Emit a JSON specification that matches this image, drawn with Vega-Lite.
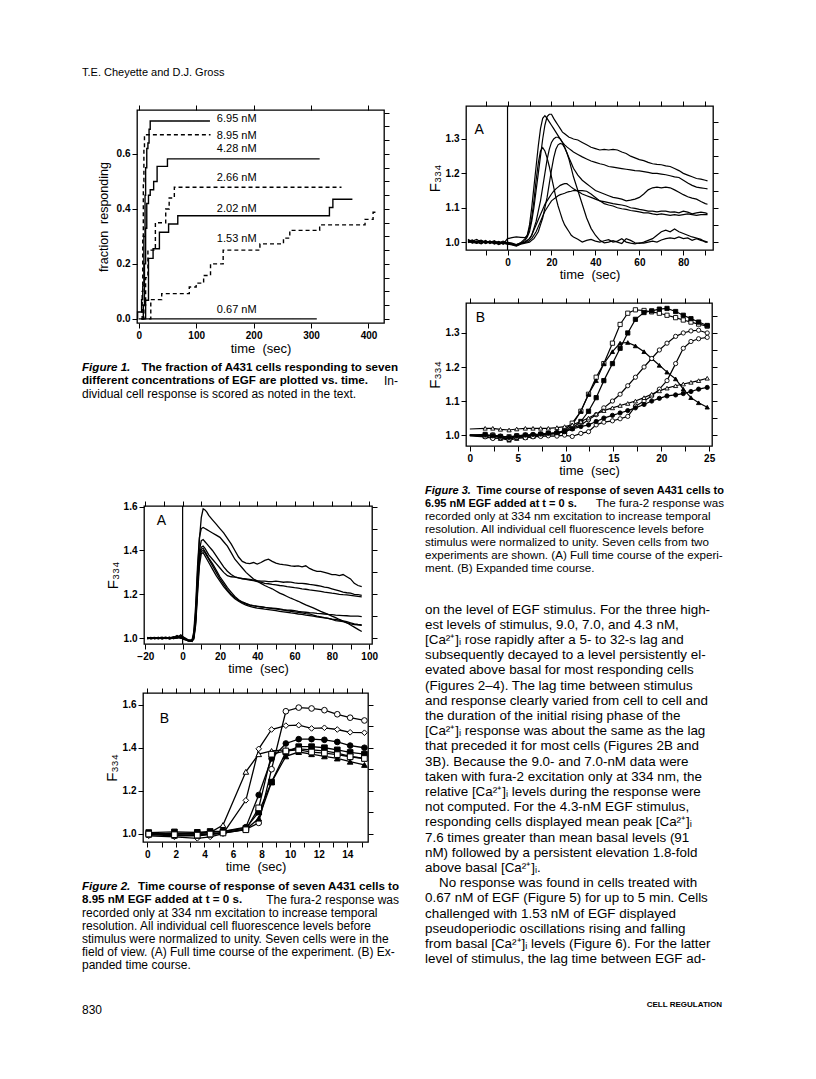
{
  "$schema": "https://vega.github.io/schema/vega-lite/v6.json",
  "background": "white",
  "padding": {"left": 82, "top": 66, "right": 10, "bottom": 10},
  "bounds": "flush",
  "spacing": 343,
  "config": {
    "view": {"stroke": null},
    "font": "Liberation Sans",
    "axis": {"grid": false, "domain": false, "ticks": true, "tickColor": "#000", "tickWidth": 1, "tickSize": 5,
      "labelColor": "#000", "labelFont": "Liberation Sans", "labelFontSize": 10, "labelFontWeight": "bold", "labelPadding": 2,
      "labelFlush": false, "labelOverlap": false, "titleColor": "#000", "titleFont": "Liberation Sans", "titleFontWeight": "normal", "titleFontSize": 13},
    "text": {"font": "Liberation Sans", "color": "#000"}
  },
  "datasets": {
    "fig1": [
      {"conc":"6.95 nM","t":-2.5,"f":0},{"conc":"6.95 nM","t":-2,"f":0.025},{"conc":"6.95 nM","t":5,"f":0.07},{"conc":"6.95 nM","t":7,"f":0.12},{"conc":"6.95 nM","t":9,"f":0.3},{"conc":"6.95 nM","t":11,"f":0.45},{"conc":"6.95 nM","t":12,"f":0.55},{"conc":"6.95 nM","t":14,"f":0.62},{"conc":"6.95 nM","t":16,"f":0.64},{"conc":"6.95 nM","t":18,"f":0.69},{"conc":"6.95 nM","t":20,"f":0.72},{"conc":"6.95 nM","t":124,"f":0.72},
      {"conc":"8.95 nM","t":4,"f":0},{"conc":"8.95 nM","t":6,"f":0.1},{"conc":"8.95 nM","t":7,"f":0.3},{"conc":"8.95 nM","t":8,"f":0.5},{"conc":"8.95 nM","t":9,"f":0.62},{"conc":"8.95 nM","t":10,"f":0.67},{"conc":"8.95 nM","t":125,"f":0.67},
      {"conc":"4.28 nM","t":5,"f":0},{"conc":"4.28 nM","t":8,"f":0.05},{"conc":"4.28 nM","t":10,"f":0.2},{"conc":"4.28 nM","t":12,"f":0.33},{"conc":"4.28 nM","t":14,"f":0.42},{"conc":"4.28 nM","t":17,"f":0.45},{"conc":"4.28 nM","t":20,"f":0.47},{"conc":"4.28 nM","t":26,"f":0.5},{"conc":"4.28 nM","t":32,"f":0.555},{"conc":"4.28 nM","t":47,"f":0.555},{"conc":"4.28 nM","t":50,"f":0.582},{"conc":"4.28 nM","t":315,"f":0.582},
      {"conc":"2.66 nM","t":6,"f":0},{"conc":"2.66 nM","t":9,"f":0.05},{"conc":"2.66 nM","t":12,"f":0.15},{"conc":"2.66 nM","t":16,"f":0.25},{"conc":"2.66 nM","t":26,"f":0.25},{"conc":"2.66 nM","t":29,"f":0.35},{"conc":"2.66 nM","t":40,"f":0.35},{"conc":"2.66 nM","t":47,"f":0.4},{"conc":"2.66 nM","t":53,"f":0.44},{"conc":"2.66 nM","t":62,"f":0.479},{"conc":"2.66 nM","t":353,"f":0.479},
      {"conc":"2.02 nM","t":5,"f":0},{"conc":"2.02 nM","t":12,"f":0.068},{"conc":"2.02 nM","t":17,"f":0.22},{"conc":"2.02 nM","t":25,"f":0.255},{"conc":"2.02 nM","t":36,"f":0.315},{"conc":"2.02 nM","t":52,"f":0.345},{"conc":"2.02 nM","t":68,"f":0.375},{"conc":"2.02 nM","t":332,"f":0.405},{"conc":"2.02 nM","t":338,"f":0.435},{"conc":"2.02 nM","t":372,"f":0.435},
      {"conc":"1.53 nM","t":18,"f":0},{"conc":"1.53 nM","t":21,"f":0.07},{"conc":"1.53 nM","t":40,"f":0.092},{"conc":"1.53 nM","t":88,"f":0.116},{"conc":"1.53 nM","t":100,"f":0.13},{"conc":"1.53 nM","t":113,"f":0.158},{"conc":"1.53 nM","t":125,"f":0.2},{"conc":"1.53 nM","t":147,"f":0.25},{"conc":"1.53 nM","t":211,"f":0.273},{"conc":"1.53 nM","t":252,"f":0.294},{"conc":"1.53 nM","t":263,"f":0.322},{"conc":"1.53 nM","t":315,"f":0.342},{"conc":"1.53 nM","t":394,"f":0.362},{"conc":"1.53 nM","t":408,"f":0.388},{"conc":"1.53 nM","t":417,"f":0.388},
      {"conc":"0.67 nM","t":0,"f":0},{"conc":"0.67 nM","t":310,"f":0}
    ],
    "fig1lab": [
      {"conc":"6.95 nM","t":136,"f":0.727},{"conc":"8.95 nM","t":136,"f":0.667},{"conc":"4.28 nM","t":136,"f":0.618},{"conc":"2.66 nM","t":136,"f":0.512},{"conc":"2.02 nM","t":136,"f":0.4},{"conc":"1.53 nM","t":136,"f":0.289},{"conc":"0.67 nM","t":136,"f":0.031}
    ],
    "f3a": [
      {"t":-18,"a":1.005,"b":1.002,"c":1.0,"d":1.008,"e":0.998,"f":1.004,"g":1.0},
      {"t":-16,"a":0.998,"b":1.006,"c":1.003,"d":1.0,"e":1.004,"f":0.997,"g":1.002},
      {"t":-14,"a":1.003,"b":0.997,"c":1.008,"d":0.996,"e":1.0,"f":1.002,"g":0.998},
      {"t":-12,"a":0.996,"b":1.004,"c":0.999,"d":1.003,"e":0.995,"f":1.006,"g":1.004},
      {"t":-10,"a":1.002,"b":0.999,"c":1.005,"d":0.997,"e":1.003,"f":0.998,"g":0.996},
      {"t":-8,"a":0.997,"b":1.003,"c":0.996,"d":1.002,"e":0.999,"f":1.003,"g":1.001},
      {"t":-6,"a":1.001,"b":0.996,"c":1.002,"d":0.994,"e":1.004,"f":0.997,"g":0.999},
      {"t":-4,"a":0.995,"b":1.002,"c":0.998,"d":1.0,"e":0.996,"f":1.001,"g":0.993},
      {"t":-2,"a":0.999,"b":0.994,"c":1.003,"d":0.996,"e":1.001,"f":0.995,"g":0.998},
      {"t":0,"a":0.996,"b":1.01,"c":0.997,"d":0.994,"e":0.998,"f":1.0,"g":0.995},
      {"t":2,"a":0.993,"b":1.013,"c":0.995,"d":0.992,"e":0.997,"f":0.996,"g":0.994},
      {"t":4,"a":0.99,"b":1.015,"c":0.992,"d":0.988,"e":0.993,"f":0.99,"g":0.991},
      {"t":6,"a":0.996,"b":1.014,"c":0.998,"d":0.994,"e":0.998,"f":0.995,"g":0.996},
      {"t":8,"a":1.005,"b":1.013,"c":1.0,"d":0.997,"e":1.01,"f":1.0,"g":0.999},
      {"t":9,"a":1.015,"b":1.02,"c":1.005,"d":0.998,"e":1.02,"f":1.005,"g":1.0},
      {"t":10,"a":1.03,"b":1.05,"c":1.01,"d":1.0,"e":1.04,"f":1.01,"g":1.005},
      {"t":11,"a":1.06,"b":1.1,"c":1.02,"d":1.005,"e":1.07,"f":1.02,"g":1.01},
      {"t":12,"a":1.1,"b":1.16,"c":1.04,"d":1.01,"e":1.12,"f":1.035,"g":1.02},
      {"t":13,"a":1.15,"b":1.22,"c":1.06,"d":1.02,"e":1.18,"f":1.05,"g":1.03},
      {"t":14,"a":1.2,"b":1.28,"c":1.09,"d":1.03,"e":1.23,"f":1.065,"g":1.045},
      {"t":15,"a":1.25,"b":1.33,"c":1.12,"d":1.05,"e":1.265,"f":1.08,"g":1.06},
      {"t":16,"a":1.3,"b":1.36,"c":1.16,"d":1.07,"e":1.275,"f":1.095,"g":1.075},
      {"t":17,"a":1.34,"b":1.368,"c":1.2,"d":1.1,"e":1.265,"f":1.11,"g":1.09},
      {"t":18,"a":1.365,"b":1.36,"c":1.24,"d":1.13,"e":1.245,"f":1.12,"g":1.1},
      {"t":19,"a":1.372,"b":1.35,"c":1.27,"d":1.17,"e":1.22,"f":1.13,"g":1.11},
      {"t":20,"a":1.372,"b":1.34,"c":1.29,"d":1.21,"e":1.19,"f":1.14,"g":1.12},
      {"t":21,"a":1.36,"b":1.33,"c":1.3,"d":1.245,"e":1.16,"f":1.148,"g":1.125},
      {"t":22,"a":1.35,"b":1.32,"c":1.305,"d":1.27,"e":1.13,"f":1.155,"g":1.13},
      {"t":23,"a":1.34,"b":1.31,"c":1.305,"d":1.283,"e":1.105,"f":1.16,"g":1.135},
      {"t":24,"a":1.33,"b":1.3,"c":1.3,"d":1.287,"e":1.085,"f":1.165,"g":1.138},
      {"t":25,"a":1.32,"b":1.29,"c":1.29,"d":1.285,"e":1.065,"f":1.168,"g":1.14},
      {"t":26,"a":1.315,"b":1.283,"c":1.275,"d":1.275,"e":1.05,"f":1.17,"g":1.142},
      {"t":27,"a":1.31,"b":1.277,"c":1.26,"d":1.26,"e":1.04,"f":1.17,"g":1.145},
      {"t":28,"a":1.305,"b":1.272,"c":1.245,"d":1.24,"e":1.03,"f":1.165,"g":1.147},
      {"t":29,"a":1.303,"b":1.267,"c":1.23,"d":1.215,"e":1.02,"f":1.16,"g":1.148},
      {"t":30,"a":1.3,"b":1.262,"c":1.215,"d":1.19,"e":1.015,"f":1.155,"g":1.15},
      {"t":32,"a":1.297,"b":1.255,"c":1.195,"d":1.15,"e":1.008,"f":1.148,"g":1.15},
      {"t":34,"a":1.29,"b":1.248,"c":1.18,"d":1.11,"e":1.0,"f":1.14,"g":1.15},
      {"t":36,"a":1.283,"b":1.242,"c":1.17,"d":1.07,"e":1.005,"f":1.135,"g":1.148},
      {"t":38,"a":1.276,"b":1.236,"c":1.16,"d":1.04,"e":1.008,"f":1.13,"g":1.14},
      {"t":40,"a":1.272,"b":1.232,"c":1.15,"d":1.02,"e":1.003,"f":1.125,"g":1.13},
      {"t":42,"a":1.268,"b":1.228,"c":1.145,"d":1.005,"e":1.0,"f":1.12,"g":1.12},
      {"t":44,"a":1.27,"b":1.225,"c":1.14,"d":0.998,"e":1.004,"f":1.118,"g":1.112},
      {"t":46,"a":1.268,"b":1.22,"c":1.135,"d":1.0,"e":1.007,"f":1.115,"g":1.108},
      {"t":48,"a":1.27,"b":1.218,"c":1.13,"d":1.004,"e":1.0,"f":1.112,"g":1.105},
      {"t":50,"a":1.268,"b":1.216,"c":1.128,"d":1.0,"e":1.003,"f":1.11,"g":1.1},
      {"t":52,"a":1.262,"b":1.214,"c":1.125,"d":0.996,"e":1.01,"f":1.108,"g":1.097},
      {"t":54,"a":1.258,"b":1.212,"c":1.12,"d":1.01,"e":1.0,"f":1.105,"g":1.095},
      {"t":56,"a":1.25,"b":1.21,"c":1.122,"d":1.005,"e":0.997,"f":1.1,"g":1.092},
      {"t":58,"a":1.245,"b":1.208,"c":1.125,"d":0.998,"e":0.995,"f":1.098,"g":1.09},
      {"t":60,"a":1.24,"b":1.207,"c":1.13,"d":0.996,"e":0.998,"f":1.095,"g":1.088},
      {"t":62,"a":1.237,"b":1.205,"c":1.14,"d":1.0,"e":0.997,"f":1.093,"g":1.085},
      {"t":64,"a":1.232,"b":1.203,"c":1.152,"d":1.005,"e":1.0,"f":1.09,"g":1.085},
      {"t":66,"a":1.228,"b":1.2,"c":1.158,"d":1.01,"e":1.003,"f":1.09,"g":1.082},
      {"t":68,"a":1.226,"b":1.2,"c":1.16,"d":1.02,"e":1.0,"f":1.088,"g":1.08},
      {"t":70,"a":1.225,"b":1.198,"c":1.158,"d":1.03,"e":1.006,"f":1.09,"g":1.082},
      {"t":72,"a":1.222,"b":1.196,"c":1.16,"d":1.035,"e":1.01,"f":1.09,"g":1.08},
      {"t":74,"a":1.22,"b":1.193,"c":1.158,"d":1.03,"e":1.012,"f":1.087,"g":1.078},
      {"t":76,"a":1.214,"b":1.19,"c":1.152,"d":1.038,"e":1.01,"f":1.088,"g":1.08},
      {"t":78,"a":1.208,"b":1.188,"c":1.145,"d":1.03,"e":1.015,"f":1.085,"g":1.078},
      {"t":80,"a":1.2,"b":1.18,"c":1.138,"d":1.025,"e":1.01,"f":1.09,"g":1.08},
      {"t":82,"a":1.195,"b":1.172,"c":1.132,"d":1.02,"e":1.012,"f":1.087,"g":1.082},
      {"t":84,"a":1.19,"b":1.165,"c":1.128,"d":1.015,"e":1.005,"f":1.082,"g":1.08},
      {"t":86,"a":1.185,"b":1.16,"c":1.125,"d":1.012,"e":1.01,"f":1.085,"g":1.078},
      {"t":88,"a":1.183,"b":1.158,"c":1.118,"d":1.008,"e":1.005,"f":1.087,"g":1.08},
      {"t":90,"a":1.18,"b":1.156,"c":1.112,"d":1.0,"e":1.002,"f":1.085,"g":1.08},
      {"t":91,"a":1.178,"b":1.155,"c":1.11,"d":1.0,"e":1.0,"f":1.083,"g":1.08}
    ],
    "f3b": [
      {"t":0,"osq":1.0,"fsq":1.0,"ftri":1.0,"fdia":1.0,"ocir":0.998,"otri":1.018,"fcir":1.0},
      {"t":1.6,"osq":0.998,"fsq":1.002,"ftri":0.996,"fdia":0.998,"ocir":0.995,"otri":1.02,"fcir":1.0},
      {"t":2.4,"osq":1.0,"fsq":0.997,"ftri":0.993,"fdia":1.0,"ocir":0.99,"otri":1.02,"fcir":0.998},
      {"t":3.2,"osq":0.996,"fsq":0.995,"ftri":0.99,"fdia":0.997,"ocir":0.992,"otri":1.017,"fcir":0.996},
      {"t":4.1,"osq":0.995,"fsq":0.99,"ftri":0.985,"fdia":0.994,"ocir":0.988,"otri":1.015,"fcir":0.993},
      {"t":4.9,"osq":0.998,"fsq":0.996,"ftri":0.99,"fdia":0.998,"ocir":0.993,"otri":1.018,"fcir":0.997},
      {"t":5.8,"osq":1.0,"fsq":0.995,"ftri":0.993,"fdia":1.0,"ocir":0.992,"otri":1.02,"fcir":1.0},
      {"t":6.6,"osq":0.997,"fsq":1.0,"ftri":0.996,"fdia":0.998,"ocir":0.995,"otri":1.02,"fcir":1.002},
      {"t":7.4,"osq":1.0,"fsq":1.003,"ftri":1.0,"fdia":1.002,"ocir":0.996,"otri":1.02,"fcir":1.003},
      {"t":8.2,"osq":1.003,"fsq":1.005,"ftri":1.002,"fdia":1.004,"ocir":0.998,"otri":1.02,"fcir":1.005},
      {"t":9.1,"osq":1.005,"fsq":1.006,"ftri":1.005,"fdia":1.006,"ocir":0.997,"otri":1.022,"fcir":1.007},
      {"t":9.9,"osq":1.015,"fsq":1.01,"ftri":1.01,"fdia":1.01,"ocir":1.0,"otri":1.025,"fcir":1.01},
      {"t":10.7,"osq":1.035,"fsq":1.02,"ftri":1.03,"fdia":1.02,"ocir":0.996,"otri":1.03,"fcir":1.018},
      {"t":11.6,"osq":1.07,"fsq":1.04,"ftri":1.07,"fdia":1.03,"ocir":1.005,"otri":1.04,"fcir":1.025},
      {"t":12.4,"osq":1.12,"fsq":1.07,"ftri":1.12,"fdia":1.045,"ocir":1.01,"otri":1.05,"fcir":1.03},
      {"t":13.2,"osq":1.17,"fsq":1.11,"ftri":1.16,"fdia":1.06,"ocir":1.03,"otri":1.062,"fcir":1.04},
      {"t":14.0,"osq":1.21,"fsq":1.16,"ftri":1.21,"fdia":1.08,"ocir":1.038,"otri":1.072,"fcir":1.05},
      {"t":14.9,"osq":1.27,"fsq":1.21,"ftri":1.245,"fdia":1.1,"ocir":1.042,"otri":1.08,"fcir":1.058},
      {"t":15.7,"osq":1.325,"fsq":1.255,"ftri":1.27,"fdia":1.12,"ocir":1.048,"otri":1.087,"fcir":1.065},
      {"t":16.5,"osq":1.358,"fsq":1.3,"ftri":1.272,"fdia":1.145,"ocir":1.055,"otri":1.093,"fcir":1.072},
      {"t":17.3,"osq":1.368,"fsq":1.34,"ftri":1.262,"fdia":1.17,"ocir":1.085,"otri":1.1,"fcir":1.08},
      {"t":18.2,"osq":1.366,"fsq":1.36,"ftri":1.245,"fdia":1.2,"ocir":1.1,"otri":1.11,"fcir":1.09},
      {"t":19.0,"osq":1.362,"fsq":1.365,"ftri":1.225,"fdia":1.225,"ocir":1.115,"otri":1.12,"fcir":1.1},
      {"t":19.8,"osq":1.358,"fsq":1.37,"ftri":1.205,"fdia":1.25,"ocir":1.135,"otri":1.13,"fcir":1.108},
      {"t":20.6,"osq":1.352,"fsq":1.372,"ftri":1.185,"fdia":1.27,"ocir":1.16,"otri":1.138,"fcir":1.115},
      {"t":21.5,"osq":1.345,"fsq":1.363,"ftri":1.165,"fdia":1.29,"ocir":1.21,"otri":1.145,"fcir":1.118},
      {"t":22.3,"osq":1.338,"fsq":1.352,"ftri":1.135,"fdia":1.3,"ocir":1.255,"otri":1.15,"fcir":1.122},
      {"t":23.1,"osq":1.332,"fsq":1.342,"ftri":1.11,"fdia":1.306,"ocir":1.275,"otri":1.155,"fcir":1.128},
      {"t":23.9,"osq":1.326,"fsq":1.332,"ftri":1.095,"fdia":1.308,"ocir":1.283,"otri":1.16,"fcir":1.135},
      {"t":24.8,"osq":1.32,"fsq":1.322,"ftri":1.082,"fdia":1.3,"ocir":1.287,"otri":1.167,"fcir":1.14}
    ],
    "f2a": [
      {"t":-19,"a":1.0,"b":1.003,"c":0.998,"d":1.002,"e":1.0,"f":0.997,"g":1.001},
      {"t":-17,"a":1.002,"b":0.998,"c":1.001,"d":0.997,"e":1.003,"f":1.0,"g":0.998},
      {"t":-15,"a":0.998,"b":1.001,"c":1.003,"d":1.0,"e":0.997,"f":1.002,"g":1.0},
      {"t":-13,"a":1.001,"b":0.997,"c":0.999,"d":1.003,"e":1.001,"f":0.998,"g":1.003},
      {"t":-11,"a":0.997,"b":1.002,"c":1.0,"d":0.998,"e":1.004,"f":1.001,"g":0.997},
      {"t":-9,"a":1.003,"b":0.999,"c":1.002,"d":1.001,"e":0.998,"f":1.004,"g":1.0},
      {"t":-7,"a":0.999,"b":1.004,"c":0.997,"d":1.003,"e":1.0,"f":0.996,"g":1.002},
      {"t":-5,"a":1.002,"b":0.998,"c":1.003,"d":0.999,"e":1.006,"f":1.001,"g":0.998},
      {"t":-3,"a":1.005,"b":1.002,"c":1.0,"d":1.008,"e":1.003,"f":1.012,"g":1.0},
      {"t":-1,"a":1.0,"b":1.015,"c":1.005,"d":1.0,"e":1.01,"f":1.003,"g":1.002},
      {"t":1,"a":0.997,"b":1.002,"c":0.996,"d":0.994,"e":0.998,"f":0.995,"g":0.993},
      {"t":3,"a":0.99,"b":0.992,"c":0.988,"d":0.99,"e":0.986,"f":0.992,"g":0.988},
      {"t":5,"a":0.985,"b":0.99,"c":0.99,"d":0.99,"e":0.985,"f":0.99,"g":0.985},
      {"t":6,"a":1.02,"b":1.03,"c":1.01,"d":1.0,"e":1.0,"f":1.005,"g":0.995},
      {"t":7,"a":1.12,"b":1.15,"c":1.1,"d":1.08,"e":1.07,"f":1.09,"g":1.06},
      {"t":8,"a":1.3,"b":1.33,"c":1.28,"d":1.25,"e":1.22,"f":1.24,"g":1.2},
      {"t":9,"a":1.45,"b":1.46,"c":1.4,"d":1.38,"e":1.36,"f":1.37,"g":1.33},
      {"t":10,"a":1.55,"b":1.5,"c":1.445,"d":1.415,"e":1.405,"f":1.395,"g":1.385},
      {"t":11,"a":1.59,"b":1.505,"c":1.45,"d":1.42,"e":1.41,"f":1.4,"g":1.39},
      {"t":12,"a":1.585,"b":1.5,"c":1.44,"d":1.41,"e":1.395,"f":1.39,"g":1.375},
      {"t":13,"a":1.575,"b":1.495,"c":1.43,"d":1.395,"e":1.38,"f":1.375,"g":1.36},
      {"t":14,"a":1.56,"b":1.49,"c":1.42,"d":1.38,"e":1.365,"f":1.36,"g":1.345},
      {"t":16,"a":1.54,"b":1.48,"c":1.4,"d":1.36,"e":1.34,"f":1.33,"g":1.315},
      {"t":18,"a":1.52,"b":1.47,"c":1.375,"d":1.34,"e":1.31,"f":1.3,"g":1.285},
      {"t":20,"a":1.5,"b":1.46,"c":1.35,"d":1.32,"e":1.28,"f":1.27,"g":1.26},
      {"t":22,"a":1.48,"b":1.44,"c":1.325,"d":1.3,"e":1.255,"f":1.245,"g":1.235},
      {"t":24,"a":1.455,"b":1.42,"c":1.305,"d":1.285,"e":1.23,"f":1.22,"g":1.215},
      {"t":26,"a":1.43,"b":1.39,"c":1.29,"d":1.28,"e":1.21,"f":1.2,"g":1.195},
      {"t":28,"a":1.4,"b":1.36,"c":1.28,"d":1.278,"e":1.19,"f":1.185,"g":1.18},
      {"t":30,"a":1.37,"b":1.34,"c":1.275,"d":1.275,"e":1.175,"f":1.172,"g":1.168},
      {"t":32,"a":1.35,"b":1.32,"c":1.272,"d":1.27,"e":1.165,"f":1.162,"g":1.158},
      {"t":34,"a":1.342,"b":1.3,"c":1.27,"d":1.268,"e":1.158,"f":1.155,"g":1.15},
      {"t":36,"a":1.34,"b":1.285,"c":1.268,"d":1.265,"e":1.152,"f":1.15,"g":1.145},
      {"t":38,"a":1.345,"b":1.27,"c":1.265,"d":1.262,"e":1.148,"f":1.147,"g":1.14},
      {"t":40,"a":1.338,"b":1.26,"c":1.262,"d":1.258,"e":1.145,"f":1.145,"g":1.137},
      {"t":42,"a":1.345,"b":1.25,"c":1.26,"d":1.255,"e":1.142,"f":1.143,"g":1.135},
      {"t":44,"a":1.355,"b":1.24,"c":1.26,"d":1.25,"e":1.14,"f":1.14,"g":1.132},
      {"t":46,"a":1.36,"b":1.232,"c":1.258,"d":1.248,"e":1.138,"f":1.138,"g":1.13},
      {"t":48,"a":1.35,"b":1.225,"c":1.258,"d":1.245,"e":1.135,"f":1.137,"g":1.128},
      {"t":50,"a":1.342,"b":1.215,"c":1.26,"d":1.243,"e":1.133,"f":1.135,"g":1.125},
      {"t":52,"a":1.338,"b":1.205,"c":1.258,"d":1.24,"e":1.13,"f":1.133,"g":1.122},
      {"t":54,"a":1.335,"b":1.198,"c":1.255,"d":1.238,"e":1.128,"f":1.13,"g":1.12},
      {"t":56,"a":1.333,"b":1.19,"c":1.257,"d":1.235,"e":1.125,"f":1.128,"g":1.118},
      {"t":58,"a":1.33,"b":1.182,"c":1.255,"d":1.233,"e":1.122,"f":1.127,"g":1.115},
      {"t":60,"a":1.328,"b":1.175,"c":1.252,"d":1.23,"e":1.12,"f":1.125,"g":1.113},
      {"t":62,"a":1.33,"b":1.168,"c":1.25,"d":1.228,"e":1.117,"f":1.122,"g":1.11},
      {"t":64,"a":1.325,"b":1.16,"c":1.25,"d":1.225,"e":1.115,"f":1.12,"g":1.108},
      {"t":66,"a":1.33,"b":1.152,"c":1.248,"d":1.223,"e":1.112,"f":1.118,"g":1.105},
      {"t":68,"a":1.318,"b":1.145,"c":1.245,"d":1.22,"e":1.11,"f":1.116,"g":1.103},
      {"t":70,"a":1.31,"b":1.138,"c":1.243,"d":1.218,"e":1.105,"f":1.115,"g":1.1},
      {"t":72,"a":1.305,"b":1.13,"c":1.24,"d":1.216,"e":1.1,"f":1.113,"g":1.097},
      {"t":74,"a":1.305,"b":1.122,"c":1.237,"d":1.213,"e":1.097,"f":1.112,"g":1.095},
      {"t":76,"a":1.3,"b":1.115,"c":1.233,"d":1.21,"e":1.093,"f":1.11,"g":1.092},
      {"t":78,"a":1.295,"b":1.108,"c":1.23,"d":1.208,"e":1.09,"f":1.108,"g":1.09},
      {"t":80,"a":1.29,"b":1.1,"c":1.225,"d":1.205,"e":1.085,"f":1.107,"g":1.087},
      {"t":82,"a":1.29,"b":1.093,"c":1.22,"d":1.203,"e":1.08,"f":1.105,"g":1.085},
      {"t":84,"a":1.285,"b":1.085,"c":1.215,"d":1.2,"e":1.078,"f":1.104,"g":1.082},
      {"t":86,"a":1.29,"b":1.078,"c":1.21,"d":1.198,"e":1.075,"f":1.103,"g":1.078},
      {"t":88,"a":1.28,"b":1.07,"c":1.207,"d":1.197,"e":1.07,"f":1.102,"g":1.075},
      {"t":90,"a":1.27,"b":1.06,"c":1.205,"d":1.195,"e":1.065,"f":1.1,"g":1.07},
      {"t":92,"a":1.25,"b":1.05,"c":1.2,"d":1.193,"e":1.062,"f":1.1,"g":1.065},
      {"t":94,"a":1.24,"b":1.04,"c":1.198,"d":1.19,"e":1.06,"f":1.1,"g":1.062},
      {"t":96,"a":1.235,"b":1.03,"c":1.195,"d":1.188,"e":1.058,"f":1.098,"g":1.06}
    ],
    "f2b": [
      {"t":0.1,"ocir":1.0,"odia":0.99,"otri":1.0,"fcir":1.0,"fsq":1.005,"ftri":0.995,"osq":0.998},
      {"t":1.9,"ocir":1.0,"odia":0.985,"otri":1.0,"fcir":1.0,"fsq":1.008,"ftri":0.99,"osq":0.995},
      {"t":3.5,"ocir":0.997,"odia":0.978,"otri":1.0,"fcir":1.005,"fsq":1.006,"ftri":0.99,"osq":0.993},
      {"t":4.4,"ocir":0.998,"odia":0.985,"otri":1.005,"fcir":1.005,"fsq":1.01,"ftri":0.995,"osq":0.998},
      {"t":5.3,"ocir":1.003,"odia":1.0,"otri":1.04,"fcir":1.01,"fsq":1.01,"ftri":1.005,"osq":1.003},
      {"t":6.9,"ocir":1.02,"odia":1.155,"otri":1.288,"fcir":1.03,"fsq":1.025,"ftri":1.02,"osq":1.018},
      {"t":7.8,"ocir":1.05,"odia":1.395,"otri":1.37,"fcir":1.18,"fsq":1.1,"ftri":1.07,"osq":1.12},
      {"t":8.7,"ocir":1.3,"odia":1.485,"otri":1.385,"fcir":1.35,"fsq":1.24,"ftri":1.24,"osq":1.37},
      {"t":9.7,"ocir":1.57,"odia":1.503,"otri":1.39,"fcir":1.42,"fsq":1.38,"ftri":1.36,"osq":1.385},
      {"t":10.6,"ocir":1.587,"odia":1.505,"otri":1.395,"fcir":1.44,"fsq":1.405,"ftri":1.38,"osq":1.39},
      {"t":11.5,"ocir":1.583,"odia":1.49,"otri":1.39,"fcir":1.44,"fsq":1.405,"ftri":1.37,"osq":1.38},
      {"t":12.4,"ocir":1.575,"odia":1.493,"otri":1.385,"fcir":1.437,"fsq":1.4,"ftri":1.36,"osq":1.375},
      {"t":13.3,"ocir":1.556,"odia":1.485,"otri":1.375,"fcir":1.427,"fsq":1.39,"ftri":1.35,"osq":1.368},
      {"t":14.2,"ocir":1.54,"odia":1.472,"otri":1.36,"fcir":1.41,"fsq":1.378,"ftri":1.335,"osq":1.358},
      {"t":15.2,"ocir":1.527,"odia":1.47,"otri":1.35,"fcir":1.4,"fsq":1.37,"ftri":1.32,"osq":1.35}
    ],
    "cap1": [
      {"line":1,"part":"fig","text":"Figure 1."},
      {"line":1,"part":"leadr","text":"The fraction of A431 cells responding to seven"},
      {"line":2,"part":"lead","text":"different concentrations of EGF are plotted vs. time."},
      {"line":2,"part":"tail","text":"In-"},
      {"line":3,"part":"text","text":"dividual cell response is scored as noted in the text."}
    ],
    "cap2": [
      {"line":1,"part":"fig","text":"Figure 2."},
      {"line":1,"part":"leadr","text":"Time course of response of seven A431 cells to"},
      {"line":2,"part":"lead","text":"8.95 nM EGF added at t = 0 s."},
      {"line":2,"part":"tail","text":"The fura-2 response was"},
      {"line":3,"part":"text","text":"recorded only at 334 nm excitation to increase temporal"},
      {"line":4,"part":"text","text":"resolution. All individual cell fluorescence levels before"},
      {"line":5,"part":"text","text":"stimulus were normalized to unity. Seven cells were in the"},
      {"line":6,"part":"text","text":"field of view. (A) Full time course of the experiment. (B) Ex-"},
      {"line":7,"part":"text","text":"panded time course."}
    ],
    "cap3": [
      {"line":1,"part":"fig","text":"Figure 3."},
      {"line":1,"part":"leadr","text":"Time course of response of seven A431 cells to"},
      {"line":2,"part":"lead","text":"6.95 nM EGF added at t = 0 s."},
      {"line":2,"part":"tail","text":"The fura-2 response was"},
      {"line":3,"part":"text","text":"recorded only at 334 nm excitation to increase temporal"},
      {"line":4,"part":"text","text":"resolution. All individual cell fluorescence levels before"},
      {"line":5,"part":"text","text":"stimulus were normalized to unity. Seven cells from two"},
      {"line":6,"part":"text","text":"experiments are shown. (A) Full time course of the experi-"},
      {"line":7,"part":"text","text":"ment. (B) Expanded time course."}
    ],
    "body": [
      {"line":1,"part":"text","text":"on the level of EGF stimulus. For the three high-"},
      {"line":2,"part":"text","text":"est levels of stimulus, 9.0, 7.0, and 4.3 nM,"},
      {"line":3,"part":"text","text":"[Ca²⁺]ᵢ rose rapidly after a 5- to 32-s lag and"},
      {"line":4,"part":"text","text":"subsequently decayed to a level persistently el-"},
      {"line":5,"part":"text","text":"evated above basal for most responding cells"},
      {"line":6,"part":"text","text":"(Figures 2–4). The lag time between stimulus"},
      {"line":7,"part":"text","text":"and response clearly varied from cell to cell and"},
      {"line":8,"part":"text","text":"the duration of the initial rising phase of the"},
      {"line":9,"part":"text","text":"[Ca²⁺]ᵢ response was about the same as the lag"},
      {"line":10,"part":"text","text":"that preceded it for most cells (Figures 2B and"},
      {"line":11,"part":"text","text":"3B). Because the 9.0- and 7.0-nM data were"},
      {"line":12,"part":"text","text":"taken with fura-2 excitation only at 334 nm, the"},
      {"line":13,"part":"text","text":"relative [Ca²⁺]ᵢ levels during the response were"},
      {"line":14,"part":"text","text":"not computed. For the 4.3-nM EGF stimulus,"},
      {"line":15,"part":"text","text":"responding cells displayed mean peak [Ca²⁺]ᵢ"},
      {"line":16,"part":"text","text":"7.6 times greater than mean basal levels (91"},
      {"line":17,"part":"text","text":"nM) followed by a persistent elevation 1.8-fold"},
      {"line":18,"part":"text","text":"above basal [Ca²⁺]ᵢ."},
      {"line":19,"part":"para","text":"No response was found in cells treated with"},
      {"line":20,"part":"text","text":"0.67 nM of EGF (Figure 5) for up to 5 min. Cells"},
      {"line":21,"part":"text","text":"challenged with 1.53 nM of EGF displayed"},
      {"line":22,"part":"text","text":"pseudoperiodic oscillations rising and falling"},
      {"line":23,"part":"text","text":"from basal [Ca²⁺]ᵢ levels (Figure 6). For the latter"},
      {"line":24,"part":"text","text":"level of stimulus, the lag time between EGF ad-"}
    ]
  },
  "hconcat": [
    {
      "spacing": 0,
      "bounds": "full",
      "vconcat": [
        {
          "width": 320, "height": 14,
          "data": {"values": [{"s": "T.E. Cheyette and D.J. Gross"}]},
          "mark": {"type": "text", "align": "left", "baseline": "middle", "fontSize": 11},
          "encoding": {"x": {"datum": 0, "type": "quantitative", "scale": {"domain": [0, 1]}, "axis": null}, "text": {"field": "s"}}
        },
        {"width": 1, "height": 22.5, "data": {"values": []}, "mark": "point"},
        {
          "spacing": 0, "bounds": "flush",
          "hconcat": [
            {"width": 55, "height": 250.5, "data": {"values": []}, "mark": "point"},
            {
              "width": 247, "height": 213,
              "view": {"stroke": "#000", "strokeWidth": 1.3},
              "layer": [
                {
                  "data": {"name": "fig1"},
                  "mark": {"type": "line", "interpolate": "step-after", "color": "#000", "strokeWidth": 1.4},
                  "encoding": {
                    "x": {"field": "t", "type": "quantitative", "scale": {"domain": [-3, 427], "nice": false, "zero": false},
                      "axis": {"orient": "bottom", "values": [0, 100, 200, 300, 400], "format": "d", "title": "time\u00a0\u00a0(sec)", "titlePadding": 2}},
                    "y": {"field": "f", "type": "quantitative", "scale": {"domain": [-0.015, 0.76], "nice": false, "zero": false},
                      "axis": {"orient": "left", "values": [0, 0.2, 0.4, 0.6], "format": ".1f", "title": "fraction\u00a0\u00a0responding", "titleFontSize": 12.5, "titlePadding": 6}},
                    "detail": {"field": "conc", "type": "nominal"},
                    "strokeDash": {"field": "conc", "type": "nominal",
                      "scale": {"domain": ["6.95 nM", "8.95 nM", "4.28 nM", "2.66 nM", "2.02 nM", "1.53 nM", "0.67 nM"],
                        "range": [[1, 0], [4, 3], [1, 0], [4, 3], [1, 0], [4, 3], [1, 0]]}, "legend": null}
                  }
                },
                {
                  "data": {"name": "fig1lab"},
                  "mark": {"type": "text", "align": "left", "baseline": "middle", "fontSize": 11},
                  "encoding": {
                    "x": {"field": "t", "type": "quantitative", "scale": {"domain": [-3, 427], "nice": false, "zero": false},
                      "axis": {"orient": "top", "values": [0, 100, 200, 300, 400], "labels": false, "title": null}},
                    "y": {"field": "f", "type": "quantitative", "scale": {"domain": [-0.015, 0.76], "nice": false, "zero": false},
                      "axis": {"orient": "right", "values": [0, 0.05, 0.1, 0.15, 0.2, 0.25, 0.3, 0.35, 0.4, 0.45, 0.5, 0.55, 0.6, 0.65, 0.7, 0.75], "labels": false, "title": null}},
                    "text": {"field": "conc"}
                  }
                }
              ],
              "resolve": {"axis": {"x": "independent", "y": "independent"}}
            }
          ]
        },
        {
          "width": 316, "height": 39,
          "data": {"name": "cap1"},
          "layer": [
            {"transform": [{"filter": "datum.part === 'fig'"}],
             "mark": {"type": "text", "align": "left", "baseline": "middle", "fontSize": 11.6, "fontWeight": "bold", "fontStyle": "italic"},
             "encoding": {"x": {"datum": 0, "type": "quantitative", "scale": {"domain": [0, 1]}, "axis": null},
               "y": {"field": "line", "type": "ordinal", "scale": {"domain": [1, 2, 3]}, "axis": null}, "text": {"field": "text"}}},
            {"transform": [{"filter": "datum.part === 'leadr'"}],
             "mark": {"type": "text", "align": "right", "baseline": "middle", "fontSize": 11.6, "fontWeight": "bold"},
             "encoding": {"x": {"datum": 1, "type": "quantitative", "scale": {"domain": [0, 1]}, "axis": null},
               "y": {"field": "line", "type": "ordinal", "scale": {"domain": [1, 2, 3]}, "axis": null}, "text": {"field": "text"}}},
            {"transform": [{"filter": "datum.part === 'lead'"}],
             "mark": {"type": "text", "align": "left", "baseline": "middle", "fontSize": 11.6, "fontWeight": "bold"},
             "encoding": {"x": {"datum": 0, "type": "quantitative", "scale": {"domain": [0, 1]}, "axis": null},
               "y": {"field": "line", "type": "ordinal", "scale": {"domain": [1, 2, 3]}, "axis": null}, "text": {"field": "text"}}},
            {"transform": [{"filter": "datum.part === 'text'"}],
             "mark": {"type": "text", "align": "left", "baseline": "middle", "fontSize": 12},
             "encoding": {"x": {"datum": 0, "type": "quantitative", "scale": {"domain": [0, 1]}, "axis": null},
               "y": {"field": "line", "type": "ordinal", "scale": {"domain": [1, 2, 3]}, "axis": null}, "text": {"field": "text"}}},
            {"transform": [{"filter": "datum.part === 'tail'"}],
             "mark": {"type": "text", "align": "right", "baseline": "middle", "fontSize": 12},
             "encoding": {"x": {"datum": 1, "type": "quantitative", "scale": {"domain": [0, 1]}, "axis": null},
               "y": {"field": "line", "type": "ordinal", "scale": {"domain": [1, 2, 3]}, "axis": null}, "text": {"field": "text"}}}
          ]
        },
        {"width": 1, "height": 99, "data": {"values": []}, "mark": "point"},
        {
          "spacing": 0, "bounds": "flush",
          "hconcat": [
            {"width": 62, "height": 179.5, "data": {"values": []}, "mark": "point"},
            {
              "width": 228, "height": 138,
              "view": {"stroke": "#000", "strokeWidth": 1.3},
              "layer": [
                {
                  "data": {"name": "f2a"},
                  "transform": [{"fold": ["a", "b", "c", "d", "e", "f", "g"], "as": ["cell", "v"]}],
                  "mark": {"type": "line", "color": "#000", "strokeWidth": 1.3},
                  "encoding": {
                    "x": {"field": "t", "type": "quantitative", "scale": {"domain": [-20.7, 101.5], "nice": false, "zero": false},
                      "axis": {"orient": "bottom", "values": [-20, -10, 0, 10, 20, 30, 40, 50, 60, 70, 80, 90, 100], "format": "d",
                        "labelExpr": "datum.value % 20 === 0 ? datum.label : ''", "title": "time\u00a0\u00a0(sec)", "titlePadding": 1}},
                    "y": {"field": "v", "type": "quantitative", "scale": {"domain": [0.973, 1.603], "nice": false, "zero": false},
                      "axis": {"orient": "left", "values": [1.0, 1.2, 1.4, 1.6], "format": ".1f", "title": "F₃₃₄", "titleFontSize": 15, "titlePadding": 3}},
                    "detail": {"field": "cell", "type": "nominal"}
                  }
                },
                {
                  "data": {"values": [{"t": 0}]},
                  "mark": {"type": "rule", "color": "#000", "strokeWidth": 1.2},
                  "encoding": {"x": {"field": "t", "type": "quantitative", "scale": {"domain": [-20.7, 101.5], "nice": false, "zero": false}, "axis": null}}
                },
                {
                  "data": {"values": [{"t": -11.3, "v": 1.534, "lab": "A"}]},
                  "mark": {"type": "text", "align": "center", "baseline": "middle", "fontSize": 14},
                  "encoding": {
                    "x": {"field": "t", "type": "quantitative", "scale": {"domain": [-20.7, 101.5], "nice": false, "zero": false},
                      "axis": {"orient": "top", "values": [-20, -10, 0, 10, 20, 30, 40, 50, 60, 70, 80, 90, 100], "labels": false, "title": null}},
                    "y": {"field": "v", "type": "quantitative", "scale": {"domain": [0.973, 1.603], "nice": false, "zero": false},
                      "axis": {"orient": "right", "values": [1.0, 1.1, 1.2, 1.3, 1.4, 1.5, 1.6], "labels": false, "title": null}},
                    "text": {"field": "lab"}
                  }
                }
              ],
              "resolve": {"axis": {"x": "independent", "y": "independent"}}
            }
          ]
        },
        {
          "spacing": 0, "bounds": "flush",
          "hconcat": [
            {"width": 61, "height": 186.5, "data": {"values": []}, "mark": "point"},
            {
              "width": 225, "height": 149,
              "view": {"stroke": "#000", "strokeWidth": 1.3},
              "layer": [
                {
                  "data": {"name": "f2b"},
                  "transform": [{"fold": ["ocir", "odia", "otri", "fcir", "fsq", "ftri", "osq"], "as": ["cell", "v"]}],
                  "mark": {"type": "line", "color": "#000", "strokeWidth": 1.3},
                  "encoding": {
                    "x": {"field": "t", "type": "quantitative", "scale": {"domain": [-0.3, 15.45], "nice": false, "zero": false},
                      "axis": {"orient": "bottom", "values": [0, 1, 2, 3, 4, 5, 6, 7, 8, 9, 10, 11, 12, 13, 14, 15], "format": "d",
                        "labelExpr": "datum.value % 2 === 0 ? datum.label : ''", "title": "time\u00a0\u00a0(sec)", "titlePadding": 1}},
                    "y": {"field": "v", "type": "quantitative", "scale": {"domain": [0.961, 1.655], "nice": false, "zero": false},
                      "axis": {"orient": "left", "values": [1.0, 1.2, 1.4, 1.6], "format": ".1f", "title": "F₃₃₄", "titleFontSize": 15, "titlePadding": 3}},
                    "detail": {"field": "cell", "type": "nominal"}
                  }
                },
                {
                  "data": {"name": "f2b"},
                  "transform": [{"fold": ["ocir", "odia", "otri", "fcir", "fsq", "ftri", "osq"], "as": ["cell", "v"]}],
                  "mark": {"type": "point", "filled": true, "stroke": "#000", "strokeWidth": 1, "size": 32, "opacity": 1},
                  "encoding": {
                    "x": {"field": "t", "type": "quantitative", "scale": {"domain": [-0.3, 15.45], "nice": false, "zero": false},
                      "axis": {"orient": "top", "values": [0, 1, 2, 3, 4, 5, 6, 7, 8, 9, 10, 11, 12, 13, 14, 15], "labels": false, "title": null}},
                    "y": {"field": "v", "type": "quantitative", "scale": {"domain": [0.961, 1.655], "nice": false, "zero": false},
                      "axis": {"orient": "right", "values": [1.0, 1.1, 1.2, 1.3, 1.4, 1.5, 1.6], "labels": false, "title": null}},
                    "shape": {"field": "cell", "type": "nominal", "scale": {"domain": ["ocir", "odia", "otri", "fcir", "fsq", "ftri", "osq"],
                      "range": ["circle", "diamond", "triangle-up", "circle", "square", "triangle-up", "square"]}, "legend": null},
                    "fill": {"field": "cell", "type": "nominal", "scale": {"domain": ["ocir", "odia", "otri", "fcir", "fsq", "ftri", "osq"],
                      "range": ["#fff", "#fff", "#fff", "#000", "#000", "#000", "#fff"]}, "legend": null}
                  }
                },
                {
                  "data": {"values": [{"t": 1.2, "v": 1.534, "lab": "B"}]},
                  "mark": {"type": "text", "align": "center", "baseline": "middle", "fontSize": 14},
                  "encoding": {
                    "x": {"field": "t", "type": "quantitative", "scale": {"domain": [-0.3, 15.45], "nice": false, "zero": false}, "axis": null},
                    "y": {"field": "v", "type": "quantitative", "scale": {"domain": [0.961, 1.655], "nice": false, "zero": false}, "axis": null},
                    "text": {"field": "lab"}
                  }
                }
              ],
              "resolve": {"axis": {"x": "independent", "y": "independent"}}
            }
          ]
        },
        {
          "width": 317, "height": 91,
          "data": {"name": "cap2"},
          "layer": [
            {"transform": [{"filter": "datum.part === 'fig'"}],
             "mark": {"type": "text", "align": "left", "baseline": "middle", "fontSize": 11.6, "fontWeight": "bold", "fontStyle": "italic"},
             "encoding": {"x": {"datum": 0, "type": "quantitative", "scale": {"domain": [0, 1]}, "axis": null},
               "y": {"field": "line", "type": "ordinal", "scale": {"domain": [1, 2, 3, 4, 5, 6, 7]}, "axis": null}, "text": {"field": "text"}}},
            {"transform": [{"filter": "datum.part === 'leadr'"}],
             "mark": {"type": "text", "align": "right", "baseline": "middle", "fontSize": 11.6, "fontWeight": "bold"},
             "encoding": {"x": {"datum": 1, "type": "quantitative", "scale": {"domain": [0, 1]}, "axis": null},
               "y": {"field": "line", "type": "ordinal", "scale": {"domain": [1, 2, 3, 4, 5, 6, 7]}, "axis": null}, "text": {"field": "text"}}},
            {"transform": [{"filter": "datum.part === 'lead'"}],
             "mark": {"type": "text", "align": "left", "baseline": "middle", "fontSize": 11.6, "fontWeight": "bold"},
             "encoding": {"x": {"datum": 0, "type": "quantitative", "scale": {"domain": [0, 1]}, "axis": null},
               "y": {"field": "line", "type": "ordinal", "scale": {"domain": [1, 2, 3, 4, 5, 6, 7]}, "axis": null}, "text": {"field": "text"}}},
            {"transform": [{"filter": "datum.part === 'text'"}],
             "mark": {"type": "text", "align": "left", "baseline": "middle", "fontSize": 12},
             "encoding": {"x": {"datum": 0, "type": "quantitative", "scale": {"domain": [0, 1]}, "axis": null},
               "y": {"field": "line", "type": "ordinal", "scale": {"domain": [1, 2, 3, 4, 5, 6, 7]}, "axis": null}, "text": {"field": "text"}}},
            {"transform": [{"filter": "datum.part === 'tail'"}],
             "mark": {"type": "text", "align": "right", "baseline": "middle", "fontSize": 12},
             "encoding": {"x": {"datum": 1, "type": "quantitative", "scale": {"domain": [0, 1]}, "axis": null},
               "y": {"field": "line", "type": "ordinal", "scale": {"domain": [1, 2, 3, 4, 5, 6, 7]}, "axis": null}, "text": {"field": "text"}}}
          ]
        },
        {"width": 1, "height": 31.5, "data": {"values": []}, "mark": "point"},
        {
          "width": 60, "height": 14,
          "data": {"values": [{"s": "830"}]},
          "mark": {"type": "text", "align": "left", "baseline": "middle", "fontSize": 12},
          "encoding": {"x": {"datum": 0, "type": "quantitative", "scale": {"domain": [0, 1]}, "axis": null}, "text": {"field": "s"}}
        }
      ]
    },
    {
      "spacing": 0,
      "bounds": "full",
      "vconcat": [
        {"width": 1, "height": 32.5, "data": {"values": []}, "mark": "point"},
        {
          "spacing": 0, "bounds": "flush",
          "hconcat": [
            {"width": 41, "height": 189.5, "data": {"values": []}, "mark": "point"},
            {
              "width": 247, "height": 144,
              "view": {"stroke": "#000", "strokeWidth": 1.3},
              "layer": [
                {
                  "data": {"name": "f3a"},
                  "transform": [{"fold": ["a", "b", "c", "d", "e", "f", "g"], "as": ["cell", "v"]}],
                  "mark": {"type": "line", "color": "#000", "strokeWidth": 1.2},
                  "encoding": {
                    "x": {"field": "t", "type": "quantitative", "scale": {"domain": [-18.9, 93.5], "nice": false, "zero": false},
                      "axis": {"orient": "bottom", "values": [-10, 0, 10, 20, 30, 40, 50, 60, 70, 80, 90], "format": "d",
                        "labelExpr": "datum.value % 20 === 0 ? datum.label : ''", "title": "time\u00a0\u00a0(sec)", "titlePadding": 1}},
                    "y": {"field": "v", "type": "quantitative", "scale": {"domain": [0.977, 1.396], "nice": false, "zero": false},
                      "axis": {"orient": "left", "values": [1.0, 1.1, 1.2, 1.3], "format": ".1f", "title": "F₃₃₄", "titleFontSize": 15, "titlePadding": 3}},
                    "detail": {"field": "cell", "type": "nominal"}
                  }
                },
                {
                  "data": {"values": [{"t": 0}]},
                  "mark": {"type": "rule", "color": "#000", "strokeWidth": 1.2},
                  "encoding": {"x": {"field": "t", "type": "quantitative", "scale": {"domain": [-18.9, 93.5], "nice": false, "zero": false}, "axis": null}}
                },
                {
                  "data": {"values": [{"t": -12.9, "v": 1.326, "lab": "A"}]},
                  "mark": {"type": "text", "align": "center", "baseline": "middle", "fontSize": 14},
                  "encoding": {
                    "x": {"field": "t", "type": "quantitative", "scale": {"domain": [-18.9, 93.5], "nice": false, "zero": false},
                      "axis": {"orient": "top", "values": [-10, 0, 10, 20, 30, 40, 50, 60, 70, 80, 90], "labels": false, "title": null}},
                    "y": {"field": "v", "type": "quantitative", "scale": {"domain": [0.977, 1.396], "nice": false, "zero": false},
                      "axis": {"orient": "right", "values": [1.0, 1.05, 1.1, 1.15, 1.2, 1.25, 1.3, 1.35], "labels": false, "title": null}},
                    "text": {"field": "lab"}
                  }
                }
              ],
              "resolve": {"axis": {"x": "independent", "y": "independent"}}
            }
          ]
        },
        {
          "spacing": 0, "bounds": "flush",
          "hconcat": [
            {"width": 41, "height": 180.5, "data": {"values": []}, "mark": "point"},
            {
              "width": 246, "height": 143,
              "view": {"stroke": "#000", "strokeWidth": 1.3},
              "layer": [
                {
                  "data": {"name": "f3b"},
                  "transform": [{"fold": ["osq", "fsq", "ftri", "fdia", "ocir", "otri", "fcir"], "as": ["cell", "v"]}],
                  "mark": {"type": "line", "color": "#000", "strokeWidth": 1.2},
                  "encoding": {
                    "x": {"field": "t", "type": "quantitative", "scale": {"domain": [-0.4, 25.3], "nice": false, "zero": false},
                      "axis": {"orient": "bottom", "values": [0, 2.5, 5, 7.5, 10, 12.5, 15, 17.5, 20, 22.5, 25], "format": "d",
                        "labelExpr": "datum.value % 5 === 0 ? datum.label : ''", "title": "time\u00a0\u00a0(sec)", "titlePadding": 1}},
                    "y": {"field": "v", "type": "quantitative", "scale": {"domain": [0.968, 1.388], "nice": false, "zero": false},
                      "axis": {"orient": "left", "values": [1.0, 1.1, 1.2, 1.3], "format": ".1f", "title": "F₃₃₄", "titleFontSize": 15, "titlePadding": 3}},
                    "detail": {"field": "cell", "type": "nominal"}
                  }
                },
                {
                  "data": {"name": "f3b"},
                  "transform": [{"filter": "datum.t > 0"}, {"fold": ["osq", "fsq", "ftri", "fdia", "ocir", "otri", "fcir"], "as": ["cell", "v"]}],
                  "mark": {"type": "point", "filled": true, "stroke": "#000", "strokeWidth": 0.9, "size": 18, "opacity": 1},
                  "encoding": {
                    "x": {"field": "t", "type": "quantitative", "scale": {"domain": [-0.4, 25.3], "nice": false, "zero": false},
                      "axis": {"orient": "top", "values": [0, 2.5, 5, 7.5, 10, 12.5, 15, 17.5, 20, 22.5, 25], "labels": false, "title": null}},
                    "y": {"field": "v", "type": "quantitative", "scale": {"domain": [0.968, 1.388], "nice": false, "zero": false},
                      "axis": {"orient": "right", "values": [1.0, 1.05, 1.1, 1.15, 1.2, 1.25, 1.3, 1.35], "labels": false, "title": null}},
                    "shape": {"field": "cell", "type": "nominal", "scale": {"domain": ["osq", "fsq", "ftri", "fdia", "ocir", "otri", "fcir"],
                      "range": ["square", "square", "triangle-up", "diamond", "circle", "triangle-up", "circle"]}, "legend": null},
                    "fill": {"field": "cell", "type": "nominal", "scale": {"domain": ["osq", "fsq", "ftri", "fdia", "ocir", "otri", "fcir"],
                      "range": ["#fff", "#000", "#000", "#000", "#fff", "#fff", "#000"]}, "legend": null}
                  }
                },
                {
                  "data": {"values": [{"t": 1.1, "v": 1.344, "lab": "B"}]},
                  "mark": {"type": "text", "align": "center", "baseline": "middle", "fontSize": 14},
                  "encoding": {
                    "x": {"field": "t", "type": "quantitative", "scale": {"domain": [-0.4, 25.3], "nice": false, "zero": false}, "axis": null},
                    "y": {"field": "v", "type": "quantitative", "scale": {"domain": [0.968, 1.388], "nice": false, "zero": false}, "axis": null},
                    "text": {"field": "lab"}
                  }
                }
              ],
              "resolve": {"axis": {"x": "independent", "y": "independent"}}
            }
          ]
        },
        {
          "width": 299, "height": 91,
          "data": {"name": "cap3"},
          "layer": [
            {"transform": [{"filter": "datum.part === 'fig'"}],
             "mark": {"type": "text", "align": "left", "baseline": "middle", "fontSize": 11, "fontWeight": "bold", "fontStyle": "italic"},
             "encoding": {"x": {"datum": 0, "type": "quantitative", "scale": {"domain": [0, 1]}, "axis": null},
               "y": {"field": "line", "type": "ordinal", "scale": {"domain": [1, 2, 3, 4, 5, 6, 7]}, "axis": null}, "text": {"field": "text"}}},
            {"transform": [{"filter": "datum.part === 'leadr'"}],
             "mark": {"type": "text", "align": "right", "baseline": "middle", "fontSize": 11, "fontWeight": "bold"},
             "encoding": {"x": {"datum": 1, "type": "quantitative", "scale": {"domain": [0, 1]}, "axis": null},
               "y": {"field": "line", "type": "ordinal", "scale": {"domain": [1, 2, 3, 4, 5, 6, 7]}, "axis": null}, "text": {"field": "text"}}},
            {"transform": [{"filter": "datum.part === 'lead'"}],
             "mark": {"type": "text", "align": "left", "baseline": "middle", "fontSize": 11, "fontWeight": "bold"},
             "encoding": {"x": {"datum": 0, "type": "quantitative", "scale": {"domain": [0, 1]}, "axis": null},
               "y": {"field": "line", "type": "ordinal", "scale": {"domain": [1, 2, 3, 4, 5, 6, 7]}, "axis": null}, "text": {"field": "text"}}},
            {"transform": [{"filter": "datum.part === 'text'"}],
             "mark": {"type": "text", "align": "left", "baseline": "middle", "fontSize": 11.6},
             "encoding": {"x": {"datum": 0, "type": "quantitative", "scale": {"domain": [0, 1]}, "axis": null},
               "y": {"field": "line", "type": "ordinal", "scale": {"domain": [1, 2, 3, 4, 5, 6, 7]}, "axis": null}, "text": {"field": "text"}}},
            {"transform": [{"filter": "datum.part === 'tail'"}],
             "mark": {"type": "text", "align": "right", "baseline": "middle", "fontSize": 11.6},
             "encoding": {"x": {"datum": 1, "type": "quantitative", "scale": {"domain": [0, 1]}, "axis": null},
               "y": {"field": "line", "type": "ordinal", "scale": {"domain": [1, 2, 3, 4, 5, 6, 7]}, "axis": null}, "text": {"field": "text"}}}
          ]
        },
        {"width": 1, "height": 26.9, "data": {"values": []}, "mark": "point"},
        {
          "width": 297, "height": 364.8,
          "data": {"name": "body"},
          "layer": [
            {"transform": [{"filter": "datum.part === 'text'"}],
             "mark": {"type": "text", "align": "left", "baseline": "middle", "fontSize": 13.4},
             "encoding": {"x": {"datum": 0, "type": "quantitative", "scale": {"domain": [0, 1]}, "axis": null},
               "y": {"field": "line", "type": "ordinal", "scale": {"domain": [1, 2, 3, 4, 5, 6, 7, 8, 9, 10, 11, 12, 13, 14, 15, 16, 17, 18, 19, 20, 21, 22, 23, 24]}, "axis": null},
               "text": {"field": "text"}}},
            {"transform": [{"filter": "datum.part === 'para'"}],
             "mark": {"type": "text", "align": "left", "baseline": "middle", "fontSize": 13.4},
             "encoding": {"x": {"datum": 0.047, "type": "quantitative", "scale": {"domain": [0, 1]}, "axis": null},
               "y": {"field": "line", "type": "ordinal", "scale": {"domain": [1, 2, 3, 4, 5, 6, 7, 8, 9, 10, 11, 12, 13, 14, 15, 16, 17, 18, 19, 20, 21, 22, 23, 24]}, "axis": null},
               "text": {"field": "text"}}}
          ]
        },
        {"width": 1, "height": 30.8, "data": {"values": []}, "mark": "point"},
        {
          "width": 297, "height": 14,
          "data": {"values": [{"s": "CELL REGULATION"}]},
          "mark": {"type": "text", "align": "right", "baseline": "middle", "fontSize": 8, "fontWeight": "bold"},
          "encoding": {"x": {"datum": 1, "type": "quantitative", "scale": {"domain": [0, 1]}, "axis": null}, "text": {"field": "s"}}
        }
      ]
    }
  ]
}
